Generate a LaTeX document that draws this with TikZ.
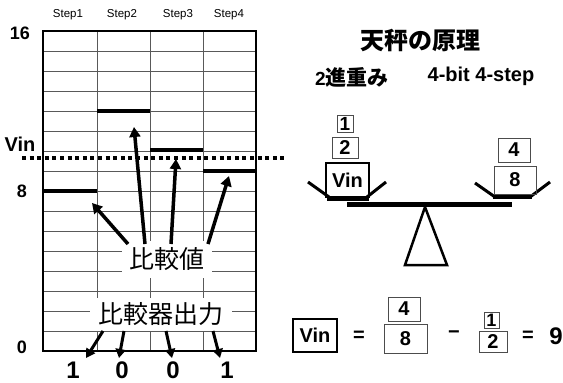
\documentclass[tikz,border=0pt]{standalone}
\usepackage{fontspec}
\setmainfont{Liberation Sans}
\newfontfamily\cjk{Noto Sans CJK JP}
\usetikzlibrary{arrows.meta}
\newcommand\fsz[1]{\fontsize{#1}{#1}\selectfont}
\begin{document}
\begin{tikzpicture}[x=1pt,y=-1pt,
  gridline/.style={draw=black!65,line width=0.9pt},
  bar/.style={line width=4pt},
  bigarrow/.style={line width=3.5pt,-{Triangle[length=10pt,width=11pt]}},
  outarrow/.style={line width=3pt,-{Triangle[length=9pt,width=10pt]}},
  axislbl/.style={font=\fsz{18}\bfseries},
  steplbl/.style={font=\fsz{11.5}},
  cjklbl/.style={font=\cjk\fsz{25},fill=white,inner sep=0pt},
  wbox/.style={draw=black!70,line width=1pt,inner sep=0pt,font=\fsz{20}\bfseries},
  vbox/.style={draw=black,line width=2.5pt,inner sep=0pt,font=\fsz{20}\bfseries},
  pan/.style={line width=3pt},
  eqtxt/.style={font=\fsz{20}\bfseries}]
\useasboundingbox (0,0) rectangle (563,383);
% grid
\foreach \k in {1,...,15} {\draw[gridline] (43,31+20*\k) -- (256,31+20*\k);}
\foreach \x in {97,150,203} {\draw[gridline] (\x,31) -- (\x,351);}
\draw[line width=1.5pt] (43,31) rectangle (256,351);
% step labels
\node[steplbl] (s1) at (68,15) {Step1};
\node[steplbl] (s2) at (122,15) {Step2};
\node[steplbl] (s3) at (178,15) {Step3};
\node[steplbl] (s4) at (229,15) {Step4};
% axis labels
\node[axislbl] (l16) at (20,33) {16};
\node[axislbl,font=\fsz{20}\bfseries] (lvinax) at (20,144) {Vin};
\node[axislbl] (l8) at (22,191) {8};
\node[axislbl] (l0) at (22,347) {0};
% bars
\draw[bar] (43,191) -- (97,191);
\draw[bar] (97,111) -- (150,111);
\draw[bar] (150,150) -- (203,150);
\draw[bar] (203,171) -- (256,171);
\coordinate (t1) at (92,203);
\coordinate (t2) at (134,127);
\coordinate (t3) at (176,159);
\coordinate (t4) at (229,176);
% Vin dotted line
\draw[line width=4pt,dash pattern=on 4pt off 3.6pt] (22,158) -- (284,158);
% labels with white backgrounds
\node[cjklbl,minimum width=90pt,minimum height=37pt] (cmp) at (167,259) {比較値};
\node[cjklbl,minimum width=142pt,minimum height=33pt] (out) at (161,314) {比較器出力};
% arrows from 比較値
\draw[bigarrow] (128,244) -- (t1);
\draw[bigarrow] (145,244) -- (t2);
\draw[bigarrow] (171,244) -- (t3);
\draw[bigarrow] (208,244) -- (t4);
% outputs
\node[font=\fsz{24}\bfseries] (o1) at (73,370) {1};
\node[font=\fsz{24}\bfseries] (o2) at (122,370) {0};
\node[font=\fsz{24}\bfseries] (o3) at (173,370) {0};
\node[font=\fsz{24}\bfseries] (o4) at (227,370) {1};
\draw[outarrow] (103,331) -- (86,358);
\draw[outarrow] (124,331) -- (119,358);
\draw[outarrow] (166,331) -- (172,358);
\draw[outarrow] (213,331) -- (220,358);
% title
\node[font=\cjk\bfseries\fsz{24}] (title) at (420,40) {天秤の原理};
\node[font=\bfseries\fsz{19}] (w2) at (352,77) {2{\cjk\fsz{21}進重み}};
\node[font=\bfseries\fsz{20}] (bits) at (481,76) {4-bit 4-step};
% balance
\draw[line width=5pt] (347,204) -- (512,204);
\draw[line width=2.5pt,line join=miter] (425,207) -- (405,265) -- (447,265) -- cycle;
\draw[pan] (308,182) -- (329,197);
\draw[pan] (367,197) -- (386,182);
\draw[line width=5pt] (327,198) -- (369,198);
\draw[pan] (475,183) -- (495,197);
\draw[pan] (530,197) -- (550,182);
\draw[line width=4pt] (493,197) -- (532,197);
\node[wbox,minimum width=16pt,minimum height=17pt,font=\fsz{19}\bfseries] (lb1) at (345,123.5) {1};
\node[wbox,minimum width=26pt,minimum height=21pt] (lb2) at (345,147.5) {2};
\node[vbox,minimum width=43pt,minimum height=34pt] (lvin) at (347.5,180) {Vin};
\node[wbox,minimum width=32pt,minimum height=24pt] (rb4) at (514,150) {4};
\node[wbox,minimum width=42pt,minimum height=28pt] (rb8) at (515,180) {8};
% equation
\node[vbox,minimum width=44pt,minimum height=33pt] (evin) at (315,335.5) {Vin};
\node[eqtxt] (eq1) at (359,336) {=};
\node[wbox,minimum width=32pt,minimum height=24pt] (e4) at (404,309) {4};
\node[wbox,minimum width=43pt,minimum height=29pt] (e8) at (405.5,338.5) {8};
\node[eqtxt] (minus) at (454,335) {−};
\node[wbox,minimum width=15pt,minimum height=16pt,font=\fsz{18}\bfseries] (e1) at (491.5,320) {1};
\node[wbox,minimum width=28pt,minimum height=21pt] (e2) at (493,341.5) {2};
\node[eqtxt] (eq2) at (528,336) {=};
\node[font=\fsz{24}\bfseries] (nine) at (556,336) {9};
\end{tikzpicture}
\end{document}
